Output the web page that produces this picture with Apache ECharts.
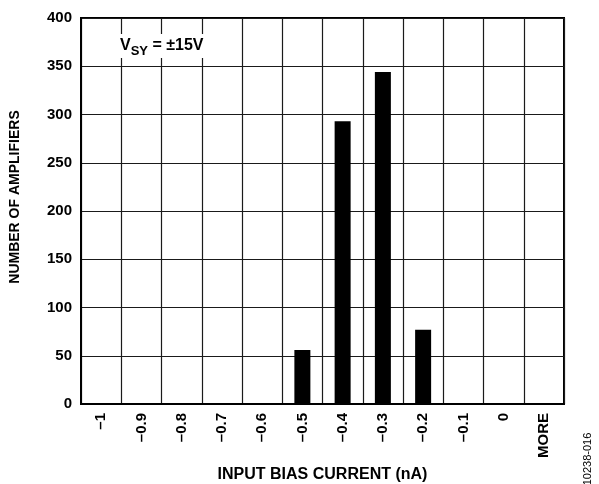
<!DOCTYPE html>
<html>
<head>
<meta charset="utf-8">
<script src="https://cdn.jsdelivr.net/npm/echarts@6/dist/echarts.min.js"></script>
<style>html,body{margin:0;padding:0;background:#fff;}#c{width:599px;height:484px;}</style>
</head>
<body>
<div id="c"></div>
<script>
var categories = ['\u20131', '\u20130.9', '\u20130.8', '\u20130.7', '\u20130.6', '\u20130.5', '\u20130.4', '\u20130.3', '\u20130.2', '\u20130.1', '0', 'MORE'];
var counts = [1, 0, 0, 0, 1, 56, 293, 344, 77, 0, 0, 0];
var yMin = 0, yMax = 400, yStep = 50;
var xTitle = 'INPUT BIAS CURRENT (nA)';
var yTitle = 'NUMBER OF AMPLIFIERS';
var FF = "'Liberation Sans', Arial, sans-serif";

var chart = echarts.init(document.getElementById('c'), null, {renderer: 'canvas'});
chart.setOption({
  animation: false,
  backgroundColor: '#fff',
  grid: {left: 81, right: 35, top: 18, bottom: 80, containLabel: false, outerBoundsMode: 'none',
         show: true, borderColor: '#000', borderWidth: 2, backgroundColor: 'transparent'},
  xAxis: {
    type: 'category',
    data: categories,
    boundaryGap: true,
    name: xTitle,
    nameLocation: 'middle',
    nameGap: 63,
    nameTextStyle: {fontFamily: FF, fontWeight: 'bold', fontSize: 16, color: '#000'},
    axisLine: {lineStyle: {color: '#000', width: 2}},
    axisTick: {show: false},
    splitLine: {show: true, lineStyle: {color: '#1a1a1a', width: 1.2}},
    axisLabel: {rotate: 90, margin: 9, fontFamily: FF, fontWeight: 'bold', fontSize: 15, color: '#000', interval: 0}
  },
  yAxis: {
    type: 'value',
    min: yMin, max: yMax, interval: yStep,
    axisLine: {show: true, lineStyle: {color: '#000', width: 2}},
    axisTick: {show: false},
    splitLine: {show: true, lineStyle: {color: '#1a1a1a', width: 1.2}},
    axisLabel: {margin: 9, fontFamily: FF, fontWeight: 'bold', fontSize: 15, color: '#000'}
  },
  series: [{
    type: 'bar',
    data: counts,
    barWidth: 16,
    itemStyle: {color: '#000'},
    z: 3
  }],
  graphic: [
    {
      type: 'text', left: 117, top: 34, z: 10,
      style: {
        text: '{a|V}{b|SY}{a| = \u00b115V}',
        backgroundColor: '#fff',
        padding: [2, 3, 2, 3],
        rich: {
          a: {fontFamily: FF, fontWeight: 'bold', fontSize: 16, fill: '#000', lineHeight: 20, verticalAlign: 'middle'},
          b: {fontFamily: FF, fontWeight: 'bold', fontSize: 13, fill: '#000', lineHeight: 20, padding: [10, 0, 0, 0], verticalAlign: 'middle'}
        }
      }
    },
    {
      type: 'text', x: 15, y: 197, rotation: Math.PI / 2, z: 10,
      style: {text: yTitle, fontFamily: FF, fontWeight: 'bold', fontSize: 14, fill: '#000', align: 'center', verticalAlign: 'middle'}
    },
    {
      type: 'text', x: 588, y: 459, rotation: Math.PI / 2, z: 10,
      style: {text: '10238-016', fontFamily: FF, fontSize: 11, fill: '#000', align: 'center', verticalAlign: 'middle'}
    }
  ]
});
</script>
</body>
</html>
